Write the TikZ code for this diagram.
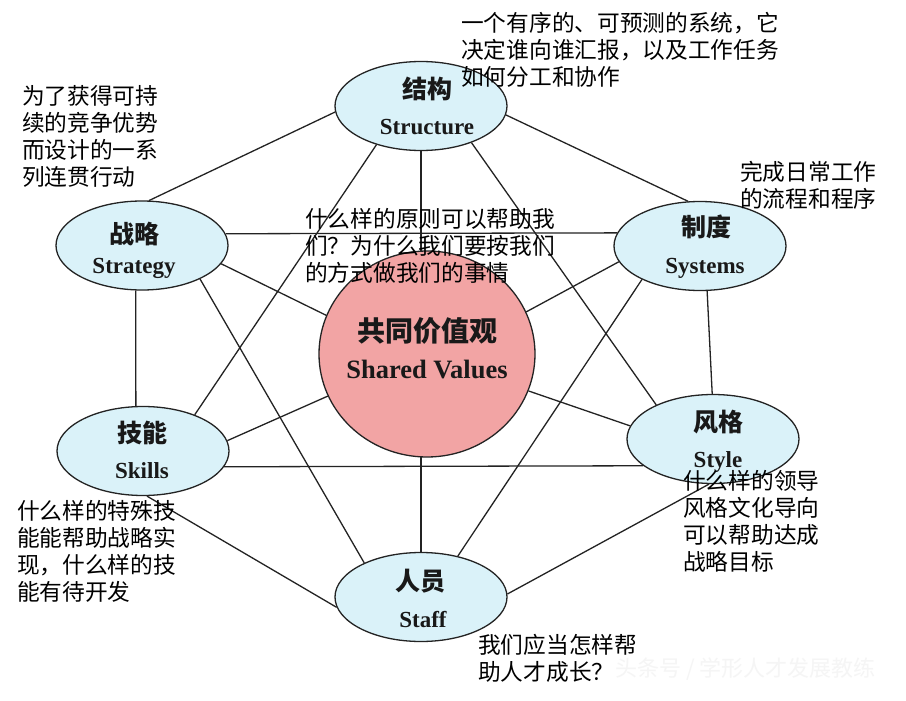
\documentclass[tikz,border=0pt]{standalone}
\usepackage{fontspec}
\newfontfamily\cjk{Noto Sans CJK SC}
\newfontfamily\enfont{Liberation Serif}
\usetikzlibrary{shapes.geometric,backgrounds}
\definecolor{nodeblue}{RGB}{218,242,249}
\definecolor{corepink}{RGB}{242,164,164}
\definecolor{edgegray}{RGB}{35,35,35}
\tikzset{
  sevens/.style={ellipse, draw=edgegray, line width=1.3pt, fill=nodeblue,
    minimum width=172pt, minimum height=89pt, inner sep=0pt},
  core/.style={ellipse, draw=edgegray, line width=1.3pt, fill=corepink,
    minimum width=216pt, minimum height=206pt, inner sep=0pt},
  cnl/.style={anchor=base, inner sep=0pt, text=black!90,
    font=\cjk\bfseries\fontsize{25}{25}\selectfont},
  cnbig/.style={cnl, font=\cjk\bfseries\fontsize{28}{28}\selectfont},
  enl/.style={anchor=base, inner sep=0pt, text=black!90,
    font=\enfont\bfseries\fontsize{23}{23}\selectfont},
  enbig/.style={enl, font=\enfont\bfseries\fontsize{26.5}{26.5}\selectfont},
  link/.style={draw=edgegray, line width=1.3pt},
  note/.style={anchor=north west, align=left, inner sep=0pt, text=black,
    font=\cjk\fontsize{22.7}{27}\selectfont},
  wm/.style={anchor=base west, inner sep=0pt, text=black!4,
    font=\cjk\fontsize{22}{22}\selectfont}
}
\begin{document}
\begin{tikzpicture}[x=1pt,y=-1pt]
\useasboundingbox (0,0) rectangle (906,701);
% ellipses
\node[sevens] (str)   at (421,106) {};
\node[sevens] (strat) at (142,245.5) {};
\node[sevens] (sys)   at (700,246) {};
\node[sevens] (skl)   at (143,451) {};
\node[sevens] (sty)   at (713,439) {};
\node[sevens] (staff) at (421,597) {};
\node[core]   (sv)    at (427,354) {};
% labels
\node[cnl] (strcn) at (427,98.5) {结构};
\node[enl] (stren) at (427,135) {Structure};
\node[cnl] (stratcn) at (134,243) {战略};
\node[enl] (straten) at (134,273) {Strategy};
\node[cnl] (syscn) at (706,236) {制度};
\node[enl] (sysen) at (705,273) {Systems};
\node[cnl] (sklcn) at (142,442) {技能};
\node[enl] (sklen) at (142,478) {Skills};
\node[cnl] (stycn) at (718,431) {风格};
\node[enl] (styen) at (718,467) {Style};
\node[cnl] (staffcn) at (420,590) {人员};
\node[enl] (staffen) at (423,627) {Staff};
\node[cnbig] (svcn) at (427,341) {共同价值观};
\node[enbig] (sven) at (427,378) {Shared Values};
% connectors
\begin{pgfonlayer}{background}
\fill[white] (0,0) rectangle (906,701);
\draw[link] (str.184) -- (strat.81);
\draw[link] (str.354) -- (sys.105);
\draw[link] (str.221) -- (skl.35);
\draw[link] (str.324) -- (sty.149);
\draw[link] (str.270) -- (staff.90);
\draw[link] (strat.8.7) -- (sys.171);
\draw[link] (strat.262) -- (skl.99);
\draw[link] (strat.347) -- (sv.159);
\draw[link] (strat.330) -- (staff.149);
\draw[link] (sys.279) -- (sty.91);
\draw[link] (sys.191) -- (sv.23);
\draw[link] (sys.210) -- (staff.48);
\draw[link] (skl.7.5) -- (sv.203);
\draw[link] (skl.349.5) -- (sty.201.7);
\draw[link] (skl.275) -- (staff.187.4);
\draw[link] (sty.171) -- (sv.340);
\draw[link] (sty.265) -- (staff.2);
\end{pgfonlayer}
% annotations
\node[wm] (mark) at (615,676) {头条号 / 学形人才发展教练};
\node[note] (n1) at (461,12) {一个有序的、可预测的系统，它\\决定谁向谁汇报，以及工作任务\\如何分工和协作};
\node[note] (n2) at (22,85) {为了获得可持\\续的竞争优势\\而设计的一系\\列连贯行动};
\node[note] (n3) at (740,161) {完成日常工作\\的流程和程序};
\node[note] (n4) at (305,208) {什么样的原则可以帮助我\\们？为什么我们要按我们\\的方式做我们的事情};
\node[note] (n5) at (17,500) {什么样的特殊技\\能能帮助战略实\\现，什么样的技\\能有待开发};
\node[note] (n6) at (683,470) {什么样的领导\\风格文化导向\\可以帮助达成\\战略目标};
\node[note] (n7) at (478,634) {我们应当怎样帮\\助人才成长？};
\end{tikzpicture}
\end{document}
